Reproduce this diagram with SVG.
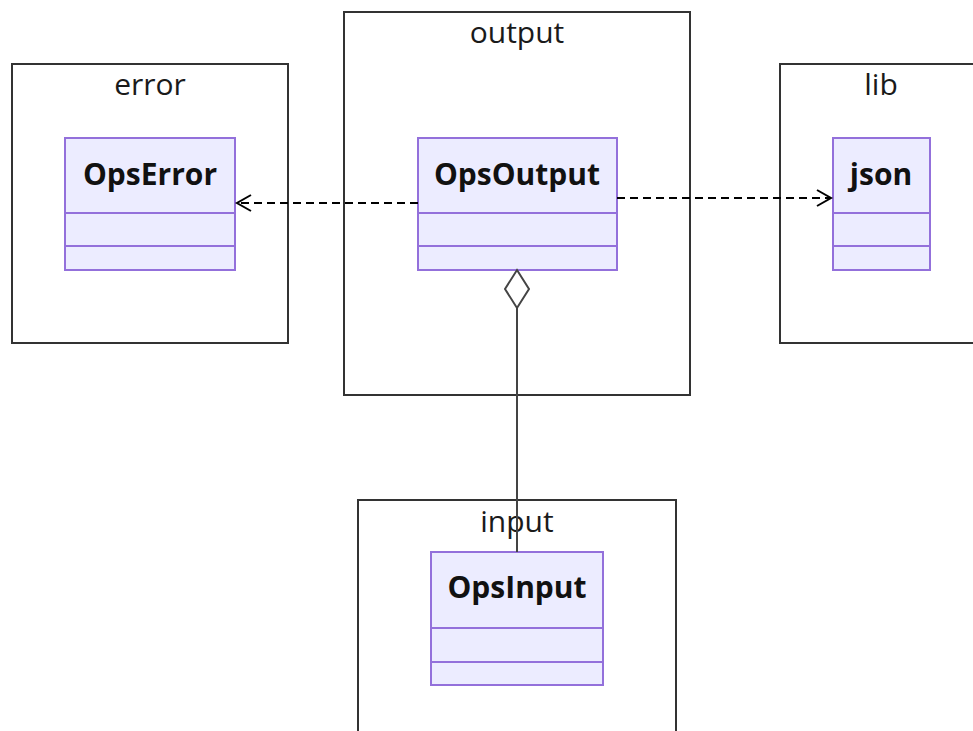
<svg xmlns="http://www.w3.org/2000/svg" width="973" height="731" viewBox="0 0 973 731">
<style>
.cluster{fill:#ffffff;stroke:#333333;stroke-width:2}
.clabel{font-family:"Open Sans","DejaVu Sans",sans-serif;font-size:30px;fill:#1a1a1a;text-anchor:middle}
.cls{fill:#ECECFF;stroke:#9370DB;stroke-width:2}
.div{stroke:#9370DB;stroke-width:2}
.cname{font-family:"Open Sans","DejaVu Sans",sans-serif;font-size:30px;font-weight:bold;fill:#111;text-anchor:middle}
.dep{fill:none;stroke:#000;stroke-width:2;stroke-dasharray:8,5}
.agg{fill:none;stroke:#444;stroke-width:2}
</style>
<defs>
<marker id="open" markerWidth="20" markerHeight="20" refX="16" refY="9" orient="auto" markerUnits="userSpaceOnUse">
<path d="M2,1 L16,9 L2,17" fill="none" stroke="#000" stroke-width="2"/>
</marker>
</defs>
<g id="cluster-error"><rect class="cluster" x="12" y="64" width="276" height="279"/><text class="clabel" x="150" y="95">error</text></g>
<g id="cluster-output"><rect class="cluster" x="344" y="12" width="346" height="383"/><text class="clabel" x="517" y="43">output</text></g>
<g id="cluster-lib"><rect class="cluster" x="780" y="64" width="220" height="279"/><text class="clabel" x="881" y="95">lib</text></g>
<g id="cluster-input"><rect class="cluster" x="358" y="500" width="318" height="260"/><text class="clabel" x="517" y="532">input</text></g>
<g id="OpsError"><rect class="cls" x="65" y="138" width="170" height="132"/><line class="div" x1="65" y1="213" x2="235" y2="213"/><line class="div" x1="65" y1="246" x2="235" y2="246"/><text class="cname" x="150" y="185">OpsError</text></g>
<g id="OpsOutput"><rect class="cls" x="418" y="138" width="199" height="132"/><line class="div" x1="418" y1="213" x2="617" y2="213"/><line class="div" x1="418" y1="246" x2="617" y2="246"/><text class="cname" x="517" y="185">OpsOutput</text></g>
<g id="json"><rect class="cls" x="833" y="138" width="97" height="132"/><line class="div" x1="833" y1="213" x2="930" y2="213"/><line class="div" x1="833" y1="246" x2="930" y2="246"/><text class="cname" x="881" y="185">json</text></g>
<g id="OpsInput"><rect class="cls" x="431" y="552" width="172" height="133"/><line class="div" x1="431" y1="628" x2="603" y2="628"/><line class="div" x1="431" y1="662" x2="603" y2="662"/><text class="cname" x="517" y="598">OpsInput</text></g>
<g id="connectors">
<path class="dep" d="M418,203 L237,203" marker-end="url(#open)"/>
<path class="dep" d="M617,198 L831,198" marker-end="url(#open)"/>
<path class="agg" d="M517,308 L517,552"/>
<path d="M517,270 L529,289 L517,308 L505,289 Z" fill="#fff" stroke="#444" stroke-width="2"/>
</g>
</svg>
